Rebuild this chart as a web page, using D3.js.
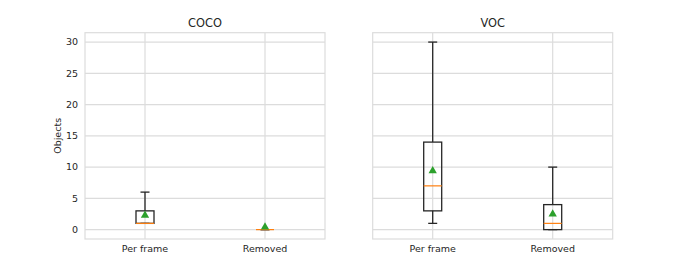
<!DOCTYPE html>
<html><head><meta charset="utf-8">
<script src="https://cdn.jsdelivr.net/npm/d3@7"></script>
<style>body{margin:0;background:#fff}svg{display:block}text{font-family:"DejaVu Sans",sans-serif;fill:#262626}</style>
</head><body><svg id="c" width="681" height="273"></svg>
<script>
const panels = ["COCO", "VOC"];
const categories = ["Per frame", "Removed"];
// [whiskerLow, q1, median, q3, whiskerHigh, mean]
const cocoStats = [[1, 1, 1, 3, 6, 2.3], [0, 0, 0, 0, 0, 0.4]];
const vocStats = [[1, 3, 7, 14, 30, 9.4], [0, 0, 1, 4, 10, 2.5]];
const yTicks = [0, 5, 10, 15, 20, 25, 30];
const yLabel = "Objects";

const svg = d3.select("#c");
const y = d3.scaleLinear().domain([-1.5, 31.5]).range([239, 32.7]);
const lefts = [85, 372.7], W = 240;
const allStats = [cocoStats, vocStats];
const grid = "#dcdcdc";

panels.forEach((title, pi) => {
  const x = d3.scaleLinear().domain([0.5, 2.5]).range([lefts[pi], lefts[pi] + W]);
  const g = svg.append("g");
  yTicks.forEach(t => g.append("line").attr("x1", x(0.5)).attr("x2", x(2.5))
    .attr("y1", y(t)).attr("y2", y(t)).attr("stroke", grid).attr("stroke-width", 1.2));
  categories.forEach((c, i) => g.append("line").attr("x1", x(i + 1)).attr("x2", x(i + 1))
    .attr("y1", y.range()[0]).attr("y2", y.range()[1]).attr("stroke", grid).attr("stroke-width", 1.2));
  g.append("rect").attr("x", x(0.5)).attr("y", y(31.5)).attr("width", W)
    .attr("height", y(-1.5) - y(31.5)).attr("fill", "none").attr("stroke", grid).attr("stroke-width", 1.2);
  if (pi === 0) {
    yTicks.forEach(t => g.append("text").attr("x", x(0.5) - 7).attr("y", y(t)).attr("dy", "0.35em")
      .attr("text-anchor", "end").attr("font-size", 9.5).text(t));
    g.append("text").attr("transform", `translate(${61},${y(15)}) rotate(-90)`)
      .attr("text-anchor", "middle").attr("font-size", 9.5).text(yLabel);
  }
  categories.forEach((c, i) => g.append("text").attr("x", x(i + 1)).attr("y", 249).attr("dy", "0.35em")
    .attr("text-anchor", "middle").attr("font-size", 9.5).text(c));
  g.append("text").attr("x", x(1.5)).attr("y", 23).attr("dy", "0.35em")
    .attr("text-anchor", "middle").attr("font-size", 11.4).text(title);

  const bw = 0.15, cw = 0.075;
  allStats[pi].forEach((s, i) => {
    const [wl, q1, med, q3, wh, mean] = s;
    const cx = i + 1;
    const st = "#262626", sw = 1.3;
    g.append("line").attr("x1", x(cx)).attr("x2", x(cx)).attr("y1", y(q3)).attr("y2", y(wh)).attr("stroke", st).attr("stroke-width", sw);
    g.append("line").attr("x1", x(cx)).attr("x2", x(cx)).attr("y1", y(q1)).attr("y2", y(wl)).attr("stroke", st).attr("stroke-width", sw);
    g.append("line").attr("x1", x(cx - cw / 2)).attr("x2", x(cx + cw / 2)).attr("y1", y(wh)).attr("y2", y(wh)).attr("stroke", st).attr("stroke-width", sw);
    g.append("line").attr("x1", x(cx - cw / 2)).attr("x2", x(cx + cw / 2)).attr("y1", y(wl)).attr("y2", y(wl)).attr("stroke", st).attr("stroke-width", sw);
    g.append("rect").attr("x", x(cx - bw / 2)).attr("y", y(q3)).attr("width", x(cx + bw / 2) - x(cx - bw / 2))
      .attr("height", Math.max(0, y(q1) - y(q3))).attr("fill", "none").attr("stroke", st).attr("stroke-width", sw);
    g.append("line").attr("x1", x(cx - bw / 2)).attr("x2", x(cx + bw / 2)).attr("y1", y(med)).attr("y2", y(med))
      .attr("stroke", "#ff7f0e").attr("stroke-width", 1.2);
    g.append("path").attr("d", d3.symbol(d3.symbolTriangle, 30)())
      .attr("transform", `translate(${x(cx)},${y(mean)})`).attr("fill", "#2ca02c");
  });
});
</script></body></html>
